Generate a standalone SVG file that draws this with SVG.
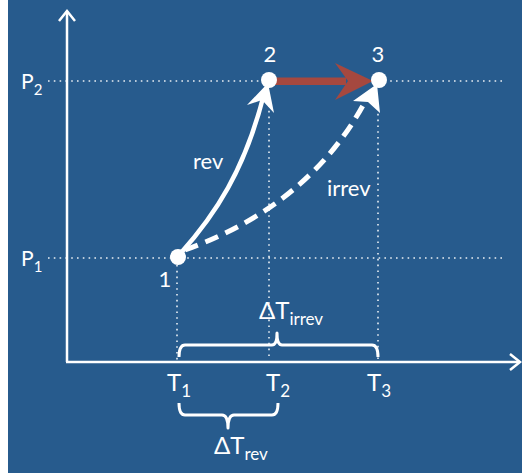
<svg xmlns="http://www.w3.org/2000/svg" width="522" height="473" viewBox="0 0 522 473">
<style>
.t{font-family:Lato,"Open Sans","Liberation Sans",sans-serif;fill:#fff}
.dot{stroke:#fff;stroke-width:1.6;stroke-dasharray:1.6 4.2;fill:none;opacity:.9}
.ax{stroke:#fff;stroke-width:2.5;fill:none}
.br{stroke:#fff;stroke-width:3;fill:none;stroke-linejoin:round}
.pt{fill:#fff}
</style>
<rect width="522" height="473" fill="#275B8D"/>
<rect width="8" height="473" fill="#fff"/>
<g id="grid">
<line class="dot" x1="48" y1="81" x2="505" y2="81"/>
<line class="dot" x1="48" y1="258" x2="505" y2="258"/>
<line class="dot" x1="177" y1="265" x2="177" y2="360"/>
<line class="dot" x1="269" y1="105" x2="269" y2="360"/>
<line class="dot" x1="378" y1="108" x2="378" y2="360"/>
</g>
<g id="axes">
<line class="ax" x1="67" y1="11" x2="67" y2="362"/>
<line class="ax" x1="66" y1="362" x2="519" y2="362"/>
<polyline class="ax" points="59,21 67,11 75,21"/>
<polyline class="ax" points="510,354 520,362 510,370"/>
<text class="t" x="21" y="89" font-size="21">P<tspan font-size="15" dy="6">2</tspan></text>
<text class="t" x="21" y="266" font-size="21">P<tspan font-size="15" dy="6">1</tspan></text>
<text class="t" x="167" y="391" font-size="24">T<tspan font-size="17" dy="6">1</tspan></text>
<text class="t" x="266" y="391" font-size="24">T<tspan font-size="17" dy="6">2</tspan></text>
<text class="t" x="367" y="391" font-size="24">T<tspan font-size="17" dy="6">3</tspan></text>
</g>
<g id="connectors">
<path id="rev" d="M180,254 C215,215 245,170 264,94" stroke="#fff" stroke-width="4.5" fill="none" stroke-linecap="round"/>
<polygon points="268,83 247,105 262,100 274,113" fill="#fff"/>
<path id="irrev" d="M185,250 C240,230 320,190 368,96" stroke="#fff" stroke-width="5" fill="none" stroke-dasharray="14 8"/>
<polygon points="377,84 353,101 368,102 380,113" fill="#fff"/>
<rect x="270" y="77.5" width="76" height="7.5" fill="#A5483F"/>
<polygon points="335,63 373,81 335,100 348,81" fill="#A5483F"/>
</g>
<g id="node1">
<circle class="pt" cx="178" cy="257" r="8"/>
<text class="t" x="165" y="287" font-size="22" text-anchor="middle">1</text>
</g>
<g id="node2">
<circle class="pt" cx="269" cy="80" r="8"/>
<text class="t" x="270" y="62" font-size="22" text-anchor="middle">2</text>
</g>
<g id="node3">
<circle class="pt" cx="379" cy="80" r="8"/>
<text class="t" x="378" y="62" font-size="22" text-anchor="middle">3</text>
</g>
<g id="labels">
<text class="t" x="193" y="169" font-size="22">rev</text>
<text class="t" x="327" y="196" font-size="22">irrev</text>
</g>
<g id="braces">
<path class="br" d="M179,357 Q179,345 185,345 L272,345 Q277,345 277,333 Q277,345 282,345 L372,345 Q378,345 378,357"/>
<text class="t" x="259" y="319" font-size="24">ΔT<tspan font-size="17" dy="6">irrev</tspan></text>
<path class="br" d="M179,403 Q179,415 185,415 L222,415 Q228,415 228,428 Q228,415 234,415 L272,415 Q278,415 278,403"/>
<text class="t" x="214" y="454" font-size="24">ΔT<tspan font-size="17" dy="6">rev</tspan></text>
</g>
</svg>
